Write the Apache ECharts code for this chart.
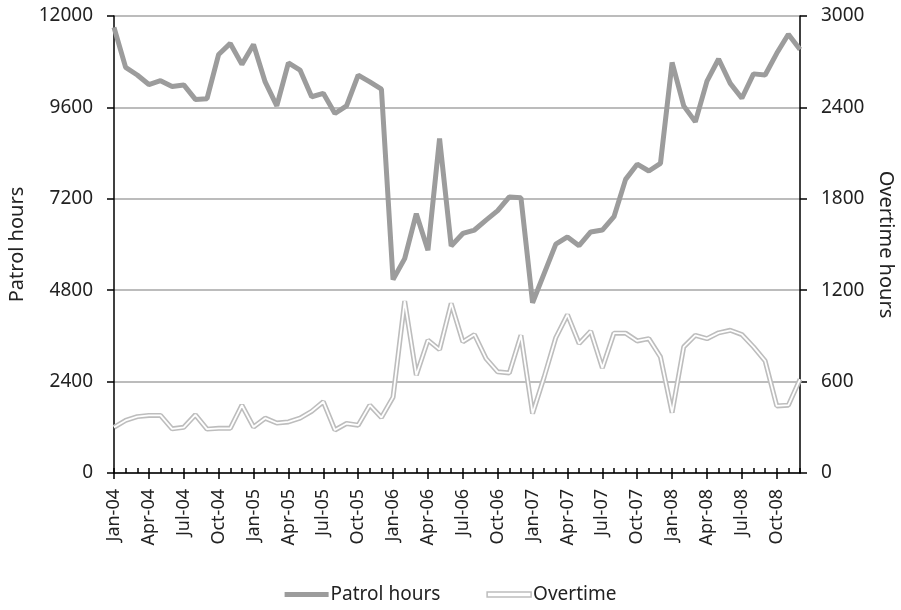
<!DOCTYPE html>
<html>
<head>
<meta charset="utf-8">
<script src="https://cdn.jsdelivr.net/npm/echarts@6/dist/echarts.min.js"></script>
<style>
  html, body { margin: 0; padding: 0; background: #fff; }
  #main { width: 901px; height: 610px; }
</style>
</head>
<body>
<div id="main"></div>
<script>
// monthly categories Jan-04 .. Dec-08
var monthNames = ['Jan', 'Feb', 'Mar', 'Apr', 'May', 'Jun', 'Jul', 'Aug', 'Sep', 'Oct', 'Nov', 'Dec'];
var years = ['04', '05', '06', '07', '08'];
var months = [];
years.forEach(function (y) {
  monthNames.forEach(function (m) { months.push(m + '-' + y); });
});

// patrol hours (left axis)
var patrolHours = [
  11700, 10650, 10450, 10200, 10300, 10150, 10190, 9810, 9830, 10990, 11280, 10730,
  11250, 10270, 9640, 10770, 10580, 9880, 9970, 9440, 9640, 10450, 10270, 10080,
  5080, 5630, 6810, 5850, 8780, 5960, 6290, 6380, 6640, 6890, 7250, 7230,
  4470, 5240, 6010, 6200, 5970, 6330, 6380, 6730, 7710, 8110, 7930, 8130,
  10780, 9640, 9220, 10290, 10870, 10230, 9840, 10480, 10450, 11020, 11520, 11120
];

// overtime hours (right axis)
var overtime = [
  300, 345, 370, 378, 378, 290, 300, 382, 288, 293, 293, 445,
  302, 360, 328, 335, 360, 405, 468, 282, 325, 314, 445, 364,
  498, 1128, 642, 872, 810, 1113, 861, 909, 751, 664, 657, 904,
  390, 631, 889, 1040, 850, 931, 690, 918, 918, 867, 882, 762,
  396, 828, 904, 882, 920, 937, 909, 828, 736, 440, 445, 615
];

var leftTicks = [0, 2400, 4800, 7200, 9600, 12000];
var rightTicks = [0, 600, 1200, 1800, 2400, 3000];

var font = 'Noto Sans';
var chart = echarts.init(document.getElementById('main'));

function plain(v) { return String(v); }

chart.setOption({
  backgroundColor: '#ffffff',
  animation: false,
  textStyle: { fontFamily: font },
  grid: { left: 114, right: 101, top: 16, bottom: 137, containLabel: false, outerBoundsMode: 'none' },
  legend: {
    bottom: 1,
    left: 'center',
    itemGap: 46,
    itemWidth: 44,
    itemHeight: 5,
    textStyle: { fontFamily: font, fontSize: 19, color: '#222', padding: [0, 0, 0, -3] },
    data: [
      { name: 'Patrol hours', icon: 'rect', itemStyle: { color: '#9c9c9c' } },
      { name: 'Overtime', icon: 'rect', itemStyle: { color: '#ffffff', borderColor: '#bdbdbd', borderWidth: 1.5 } }
    ]
  },
  xAxis: [{
    // monthly minor ticks, pointing inward
    type: 'category',
    data: months,
    boundaryGap: false,
    axisLine: { show: true, lineStyle: { color: '#000', width: 1.5 } },
    axisTick: { show: true, inside: true, length: 5, interval: 0, lineStyle: { color: '#000', width: 1.5 } },
    axisLabel: { show: false },
    splitLine: { show: false }
  }, {
    // quarterly ticks with labels
    type: 'category',
    data: months,
    boundaryGap: false,
    position: 'bottom',
    axisLine: { show: false },
    axisTick: { show: true, length: 6, interval: 2, lineStyle: { color: '#000', width: 1.5 } },
    axisLabel: {
      interval: 2,
      rotate: 90,
      margin: 16,
      fontFamily: font,
      fontSize: 18,
      color: '#222'
    },
    splitLine: { show: false }
  }],
  yAxis: [{
    type: 'value',
    min: 0,
    max: 12000,
    interval: 2400,
    name: 'Patrol hours',
    nameLocation: 'middle',
    nameGap: 86,
    nameTextStyle: { fontFamily: font, fontSize: 20, color: '#222' },
    axisLine: { show: true, lineStyle: { color: '#000', width: 1.5 } },
    axisTick: { show: true, length: 7, lineStyle: { color: '#000', width: 1.5 } },
    axisLabel: { margin: 21, fontFamily: font, fontSize: 19, color: '#222', formatter: plain },
    splitLine: { show: true, lineStyle: { color: '#a6a6a6', width: 1.5 } }
  }, {
    type: 'value',
    min: 0,
    max: 3000,
    interval: 600,
    name: 'Overtime hours',
    nameLocation: 'middle',
    nameGap: 76,
    nameRotate: -90,
    nameTextStyle: { fontFamily: font, fontSize: 20, color: '#222' },
    axisLine: { show: true, lineStyle: { color: '#000', width: 1.5 } },
    axisTick: { show: true, length: 7, lineStyle: { color: '#000', width: 1.5 } },
    axisLabel: { margin: 21, fontFamily: font, fontSize: 19, color: '#222', formatter: plain },
    splitLine: { show: false }
  }],
  series: [{
    name: 'Overtime',
    type: 'line',
    yAxisIndex: 1,
    data: overtime,
    symbol: 'none',
    lineStyle: { color: '#bdbdbd', width: 5 },
    itemStyle: { color: '#bdbdbd' },
    z: 2
  }, {
    name: 'Overtime inner',
    type: 'line',
    yAxisIndex: 1,
    data: overtime,
    symbol: 'none',
    lineStyle: { color: '#ffffff', width: 1.8 },
    z: 3
  }, {
    name: 'Patrol hours',
    type: 'line',
    data: patrolHours,
    symbol: 'none',
    lineStyle: { color: '#9c9c9c', width: 5 },
    itemStyle: { color: '#9c9c9c' },
    z: 4
  }]
});
</script>
</body>
</html>
